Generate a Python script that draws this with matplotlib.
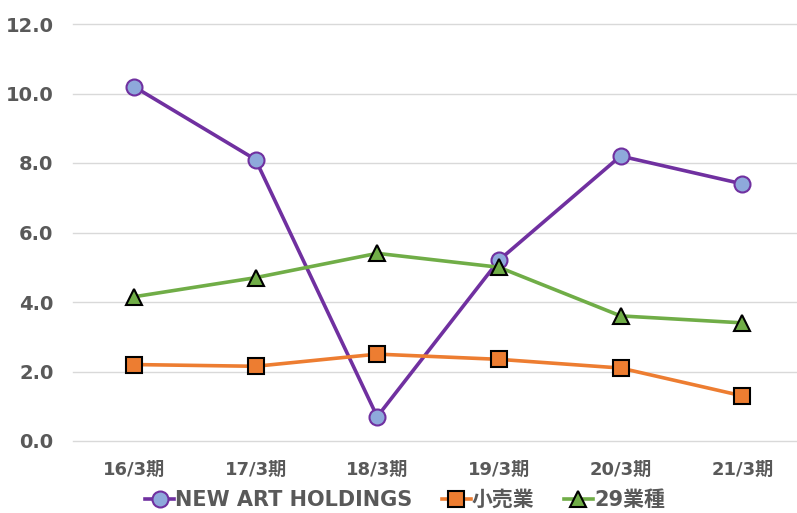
import matplotlib.pyplot as plt

plt.rcParams['font.family'] = ['DejaVu Sans', 'Noto Sans CJK JP']

# data
periods = ["16/3期", "17/3期", "18/3期", "19/3期", "20/3期", "21/3期"]
new_art = [10.2, 8.1, 0.7, 5.2, 8.2, 7.4]
retail = [2.2, 2.15, 2.5, 2.35, 2.1, 1.3]
industry29 = [4.15, 4.7, 5.4, 5.0, 3.6, 3.4]

fig = plt.figure(figsize=(7.97, 5.13), dpi=100)
ax = fig.add_axes([73 / 797, 1 - 441 / 513, 1 - 73 / 797, (441 - 24) / 513])

x = range(len(periods))
ax.plot(x, new_art, color="#7030A0", lw=2.6, marker="o", ms=11.5,
        mfc="#8EA9DB", mec="#7030A0", mew=1.5, label="NEW ART HOLDINGS", zorder=3)
ax.plot(x, retail, color="#ED7D31", lw=2.6, marker="s", ms=11,
        mfc="#ED7D31", mec="black", mew=1.5, label="小売業", zorder=3)
ax.plot(x, industry29, color="#70AD47", lw=2.6, marker="^", ms=12,
        mfc="#70AD47", mec="black", mew=1.5, label="29業種", zorder=3)

ax.set_xlim(-0.5, 5.45)
ax.set_ylim(0, 12)
ax.set_yticks([0, 2, 4, 6, 8, 10, 12])
ax.set_yticklabels([f"{v:.1f}" for v in range(0, 13, 2)])
ax.set_xticks(list(x))
ax.set_xticklabels(periods)

ax.grid(axis="y", color="#D9D9D9", lw=1)
for gl in ax.get_ygridlines():
    gl.set_clip_on(False)
ax.set_axisbelow(True)
for s in ax.spines.values():
    s.set_visible(False)
ax.tick_params(length=0)
ax.tick_params(axis="y", pad=14, labelsize=14, labelcolor="#595959")
ax.tick_params(axis="x", pad=14, labelsize=13, labelcolor="#595959")
for lbl in ax.get_xticklabels() + ax.get_yticklabels():
    lbl.set_fontweight("bold")

leg = fig.legend(loc="center", bbox_to_anchor=(405 / 797, 1 - 500 / 513), ncol=3,
                 frameon=False, prop={"size": 15, "weight": "bold"},
                 handlelength=1.4, handletextpad=0.05, columnspacing=1.4,
                 borderpad=0)
for t in leg.get_texts():
    t.set_color("#595959")

fig.savefig("out.png", dpi=100)
